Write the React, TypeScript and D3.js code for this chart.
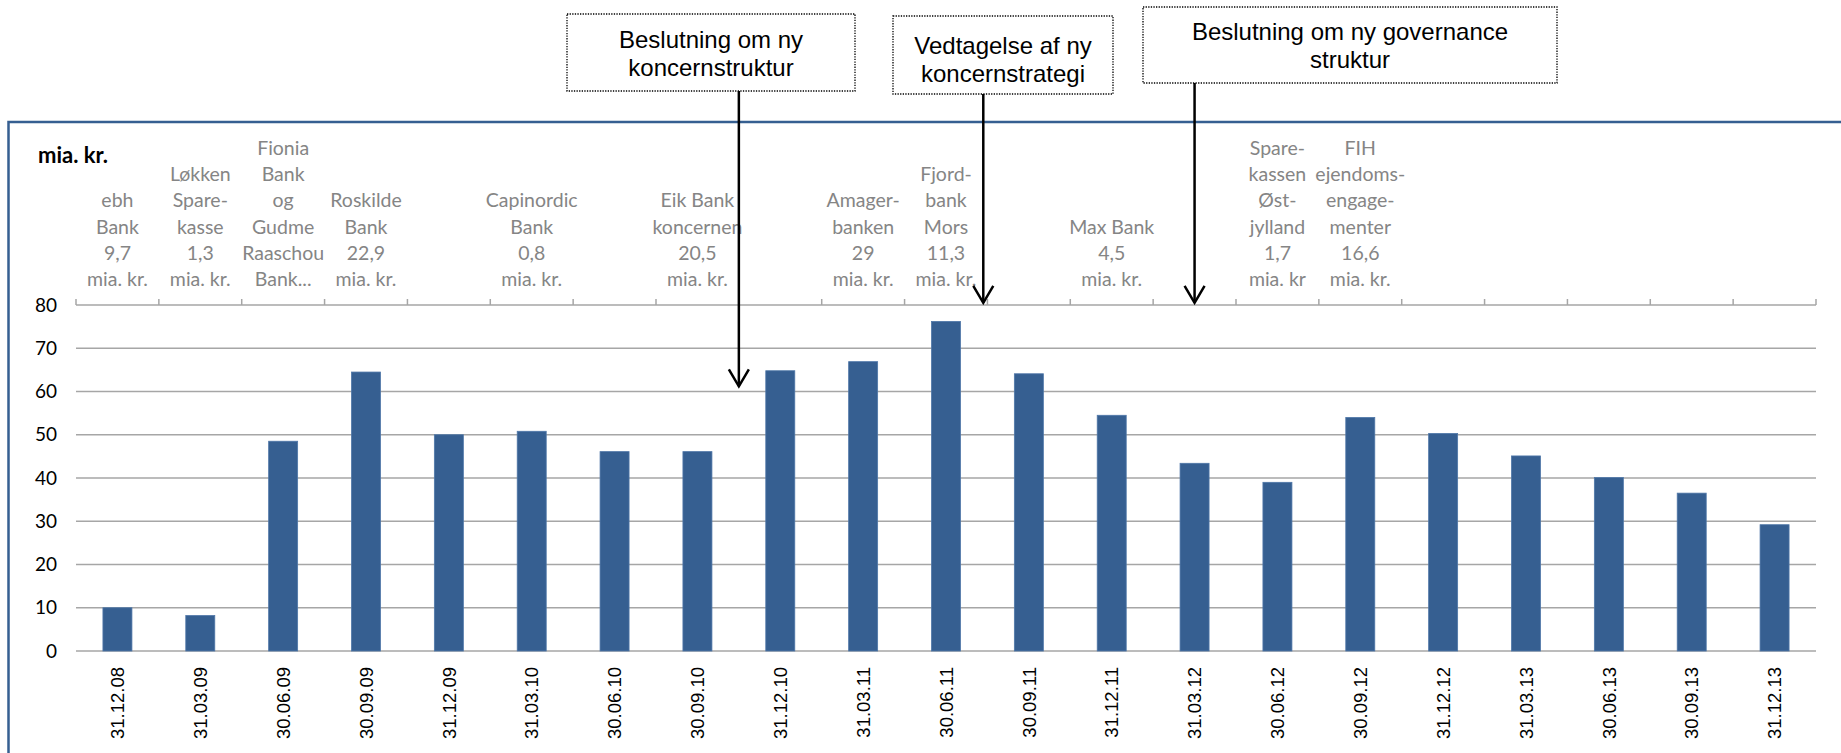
import React from 'react'
import * as d3 from 'd3'

// quarter-end dates on the x axis
const dates = [
  '31.12.08', '31.03.09', '30.06.09', '30.09.09', '31.12.09', '31.03.10', '30.06.10',
  '30.09.10', '31.12.10', '31.03.11', '30.06.11', '30.09.11', '31.12.11', '31.03.12',
  '30.06.12', '30.09.12', '31.12.12', '31.03.13', '30.06.13', '30.09.13', '31.12.13',
]
// mia. kr. per quarter
const values = [
  10, 8.2, 48.5, 64.5, 50, 50.8, 46.1, 46.1, 64.8, 66.9, 76.2,
  64.1, 54.5, 43.4, 39, 54, 50.3, 45.1, 40.1, 36.5, 29.2,
]
const yTicks = [0, 10, 20, 30, 40, 50, 60, 70, 80]

// acquired banks, shown above the quarter they came in
const takeoverDates = ['31.12.08', '31.03.09', '30.06.09', '30.09.09', '31.03.10', '30.09.10', '31.03.11', '30.06.11', '31.12.11', '30.06.12', '30.09.12']
const takeoverLabels = [
  ['ebh', 'Bank', '9,7', 'mia. kr.'],
  ['Løkken', 'Spare-', 'kasse', '1,3', 'mia. kr.'],
  ['Fionia', 'Bank', 'og', 'Gudme', 'Raaschou', 'Bank...'],
  ['Roskilde', 'Bank', '22,9', 'mia. kr.'],
  ['Capinordic', 'Bank', '0,8', 'mia. kr.'],
  ['Eik Bank', 'koncernen', '20,5', 'mia. kr.'],
  ['Amager-', 'banken', '29', 'mia. kr.'],
  ['Fjord-', 'bank', 'Mors', '11,3', 'mia. kr.'],
  ['Max Bank', '4,5', 'mia. kr.'],
  ['Spare-', 'kassen', 'Øst-', 'jylland', '1,7', 'mia. kr'],
  ['FIH', 'ejendoms-', 'engage-', 'menter', '16,6', 'mia. kr.'],
]

// decisions: where the arrow points (category index, fractional) and its tip value
const noteTexts = [
  ['Beslutning om ny', 'koncernstruktur'],
  ['Vedtagelse af ny', 'koncernstrategi'],
  ['Beslutning om ny governance', 'struktur'],
]
const notePos = [8, 10.95, 13.5]
const noteTip = [61.2, 80.5, 80.5]

const W = 1841
const H = 753
const left = 76
const right = 1816
const top = 305
const bottom = 651

// box layout for the three notes
const boxes = [
  { x0: 567, x1: 855, y0: 14, y1: 91, b: 48 },
  { x0: 893, x1: 1113, y0: 16, y1: 94, b: 54 },
  { x0: 1143, x1: 1557, y0: 7, y1: 83, b: 40 },
]

export default function App() {
  const x = d3.scaleBand<string>().domain(dates).range([left, right]).paddingInner(0.65).paddingOuter(0.325)
  const y = d3.scaleLinear().domain([0, 80]).range([bottom, top])
  const step = x.step()
  const xAt = (i: number) => left + step * i

  const gray = '#858585'
  const calibri = 'Lato, "Open Sans", sans-serif'
  const arial = '"Liberation Sans", Arial, sans-serif'
  const lineH = 26.2

  return (
    <svg width={W} height={H} style={{ position: 'absolute', left: 0, top: 0, background: '#fff' }}>
      {/* outer frame */}
      <rect x={8.5} y={122} width={W + 20} height={H} fill="none" stroke="#365f91" strokeWidth={2.5} />

      <text x={38} y={163} fontFamily={calibri} fontWeight="bold" fontSize={22} fill="#000">mia. kr.</text>

      {/* gridlines */}
      {yTicks.map(t => (
        <g key={t}>
          <line x1={left} x2={right} y1={y(t)} y2={y(t)} stroke="#a6a6a6" strokeWidth={1.5} />
          <text x={57} y={y(t)} dy="0.35em" textAnchor="end" fontFamily={calibri} fontSize={19} fill="#000">{t}</text>
        </g>
      ))}

      {/* top category axis ticks */}
      {d3.range(dates.length + 1).map(i => (
        <line key={i} x1={xAt(i)} x2={xAt(i)} y1={top - 6} y2={top} stroke="#a6a6a6" strokeWidth={1.5} />
      ))}

      {/* bars */}
      {values.map((v, i) => (
        <rect key={dates[i]} x={x(dates[i])} y={y(v)} width={x.bandwidth()} height={y(0) - y(v)} fill="#365f91" stroke="#4f77a8" strokeWidth={0.8} />
      ))}

      {/* date labels */}
      {dates.map(d => {
        const cx = (x(d) as number) + x.bandwidth() / 2
        return (
          <text key={d} transform={`translate(${cx},667) rotate(-90)`} dy="0.36em" textAnchor="end" fontFamily={arial} fontSize={18.5} fill="#000">{d}</text>
        )
      })}

      {/* takeover labels */}
      {takeoverDates.map((d, k) => {
        const cx = (x(d) as number) + x.bandwidth() / 2
        const lines = takeoverLabels[k]
        return (
          <text key={d} textAnchor="middle" fontFamily={calibri} fontSize={19.5} fill={gray}>
            {lines.map((l, j) => (
              <tspan key={j} x={cx} y={286 - (lines.length - 1 - j) * lineH}>{l}</tspan>
            ))}
          </text>
        )
      })}

      {/* decision boxes and arrows */}
      {noteTexts.map((lines, k) => {
        const b = boxes[k]
        const ax = xAt(notePos[k])
        const tip = y(noteTip[k])
        const cx = (b.x0 + b.x1) / 2
        return (
          <g key={k}>
            <rect x={b.x0} y={b.y0} width={b.x1 - b.x0} height={b.y1 - b.y0} fill="#fff" stroke="#000" strokeWidth={1.3} strokeDasharray="1.3 1.3" />
            {lines.map((l, j) => (
              <text key={j} x={cx} y={b.b + j * 28} textAnchor="middle" fontFamily={arial} fontSize={24} fill="#000">{l}</text>
            ))}
            <line x1={ax} x2={ax} y1={b.y1} y2={tip} stroke="#000" strokeWidth={2.5} />
            <path d={`M${ax - 10},${tip - 17}L${ax},${tip}L${ax + 10},${tip - 17}`} fill="none" stroke="#000" strokeWidth={2.5} />
          </g>
        )
      })}
    </svg>
  )
}
